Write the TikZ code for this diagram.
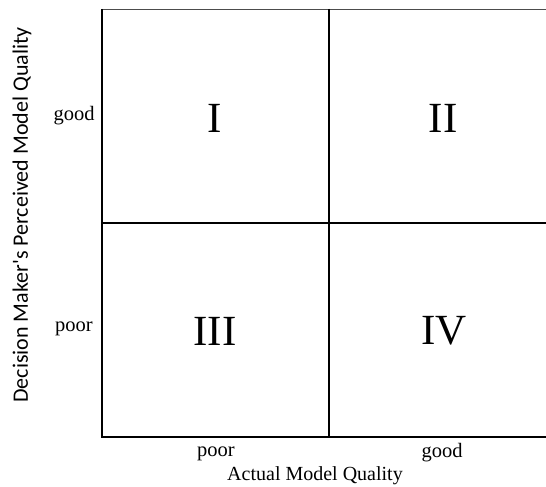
\documentclass[tikz,border=0pt]{standalone}
\usepackage{fontspec}
\setmainfont{Liberation Serif}
\newfontfamily\axisfont{Carlito}

\begin{document}
\begin{tikzpicture}[x=1pt, y=-1pt,
	tick/.style={font=\fontsize{20.5}{24}\selectfont},
	quad/.style={font=\fontsize{43}{48}\selectfont}]
		\useasboundingbox (0,0) rectangle (546,487);
		% frame
		\draw[line width=0.6pt, black!70] (102,9) -- (546,9);
		\draw[line width=1.6pt] (102,9) -- (102,437) -- (546,437);
		\draw[line width=1.6pt] (329,9) -- (329,437);
		\draw[line width=1.6pt] (102,223) -- (546,223);
		% quadrants
		\node[quad] (q1) at (215,118){I};
		\node[quad] (q2) at (443,118){II};
		\node[quad] (q3) at (215,331){III};
		\node[quad] (q4) at (444,331){IV};
		% ticks
		\node[tick] (ygood) at (74,116){good};
		\node[tick] (ypoor) at (74,329){poor};
		\node[tick] (xpoor) at (216,454){poor};
		\node[tick] (xgood) at (442,453){good};
		% axis labels
		\node[font=\fontsize{20}{24}\selectfont] (xlabel) at (315,476){Actual Model Quality};
		\node[font=\axisfont\fontsize{22}{26}\selectfont, rotate=90] (ylabel) at (22,215){Decision Maker's Perceived Model Quality};
		\end{tikzpicture}
\end{document}
